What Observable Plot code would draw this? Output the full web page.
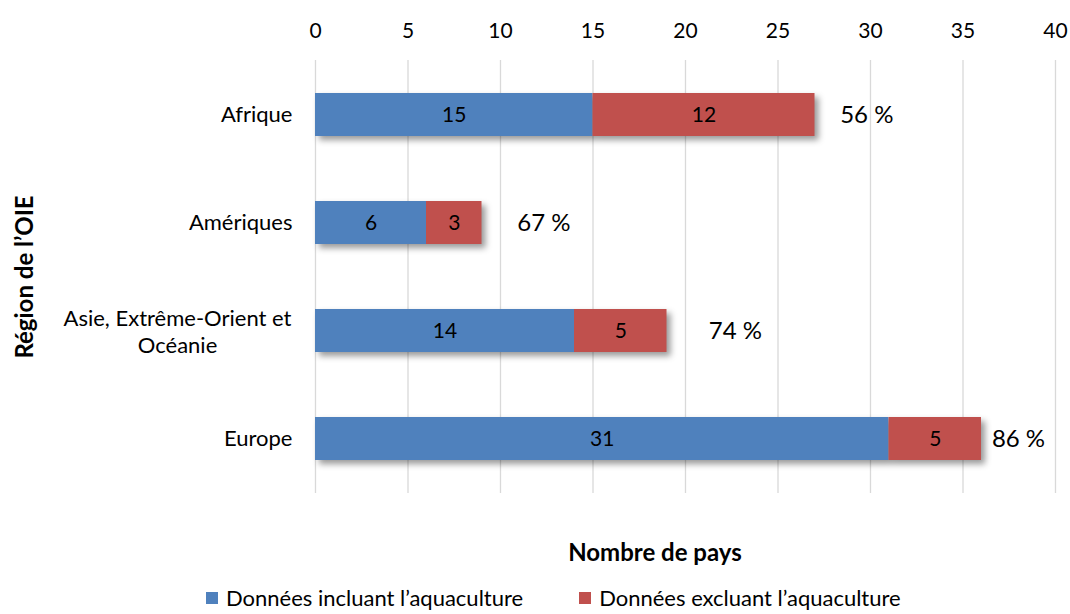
<!DOCTYPE html>
<html><head><meta charset="utf-8">
<script src="https://cdn.jsdelivr.net/npm/d3@7"></script>
<script src="https://cdn.jsdelivr.net/npm/@observablehq/plot@0.6"></script>
<style>
body{margin:0;background:#fff;font-family:Lato, sans-serif;color:#000;}
#wrap{width:1070px;height:614px;overflow:hidden;}
#chart svg{display:block;}
g[aria-label="bar"]{filter: drop-shadow(4px 4px 3px rgba(0,0,0,0.4));}
g[aria-label="y-axis label"]{font-weight:bold;font-size:24px;}
g[aria-label="y-axis label"] text{font-weight:bold;font-size:24px;}
#xtitle{height:60px;line-height:64px;font-weight:bold;font-size:24px;text-align:center;padding-left:240px;box-sizing:border-box;width:1070px;}
#legend{display:flex;align-items:center;font-size:22px;line-height:24px;padding-left:206px;height:36px;}
#legend .item{display:flex;align-items:center;}
#legend .sw{width:12px;height:12px;margin-right:8px;}
</style></head>
<body><div id="wrap"><div id="chart"></div><div id="xtitle">Nombre de pays</div><div id="legend"></div></div>
<script>
const regions = ["Afrique", "Amériques", "Asie, Extrême-Orient et Océanie", "Europe"];
const seriesNames = ["Données incluant l’aquaculture", "Données excluant l’aquaculture"];
const seriesColors = ["#4f81bd", "#c0504d"];
const incluant = [15, 6, 14, 31];
const excluant = [12, 3, 5, 5];
const pourcent = [56, 67, 74, 86];
const xTicks = [0, 5, 10, 15, 20, 25, 30, 35, 40];
const xMax = 40;

const rows = [];
regions.forEach((r, i) => {
  rows.push({region: r, series: seriesNames[0], value: incluant[i]});
  rows.push({region: r, series: seriesNames[1], value: excluant[i]});
});
const totals = regions.map((r, i) => ({
  region: r,
  total: incluant[i] + excluant[i],
  pct: pourcent[i]
}));
const multi = regions.filter(r => r.length > 20);
const single = regions.filter(r => r.length <= 20);

const plot = Plot.plot({
  width: 1070,
  height: 520,
  marginLeft: 315,
  marginRight: 15,
  marginTop: 60,
  marginBottom: 27,
  style: {fontFamily: "Lato, sans-serif", color: "#000", background: "#fff"},
  x: {domain: [0, xMax]},
  y: {domain: regions, paddingInner: 0.6, paddingOuter: 0.3},
  color: {domain: seriesNames, range: seriesColors},
  marks: [
    Plot.gridX({ticks: xTicks, stroke: "#d9d9d9", strokeOpacity: 1, strokeWidth: 1.3}),
    Plot.axisX({anchor: "top", ticks: xTicks, tickSize: 0, tickPadding: 23, fontSize: 21, label: null}),
    Plot.axisY({ticks: single, tickSize: 0, tickPadding: 23, fontSize: 22,
      label: "Région de l’OIE", labelAnchor: "center", labelOffset: 300}),
    Plot.axisY({ticks: multi, tickSize: 0, tickPadding: 138, fontSize: 22, textAnchor: "middle", lineHeight: 1.2,
      tickFormat: d => d.replace(" Océanie", "\nOcéanie"), label: null}),
    Plot.barX(rows, Plot.stackX({x: "value", y: "region", fill: "series", order: null})),
    Plot.text(rows, Plot.stackX({x: "value", y: "region", text: d => String(d.value), order: null, fontSize: 21, fill: "#000"})),
    Plot.text(totals, {
      x: d => (d.total + Math.min(d.total + d.pct / 10, xMax)) / 2,
      y: "region", text: d => d.pct + " %", fontSize: 24, fill: "#000"
    })
  ]
});
document.getElementById("chart").appendChild(plot);

const legend = document.getElementById("legend");
seriesNames.forEach((s, i) => {
  const it = document.createElement("div");
  it.className = "item";
  if (i > 0) it.style.marginLeft = "56px";
  it.innerHTML = `<div class="sw" style="background:${seriesColors[i]}"></div><span>${s}</span>`;
  legend.appendChild(it);
});
</script></body></html>
